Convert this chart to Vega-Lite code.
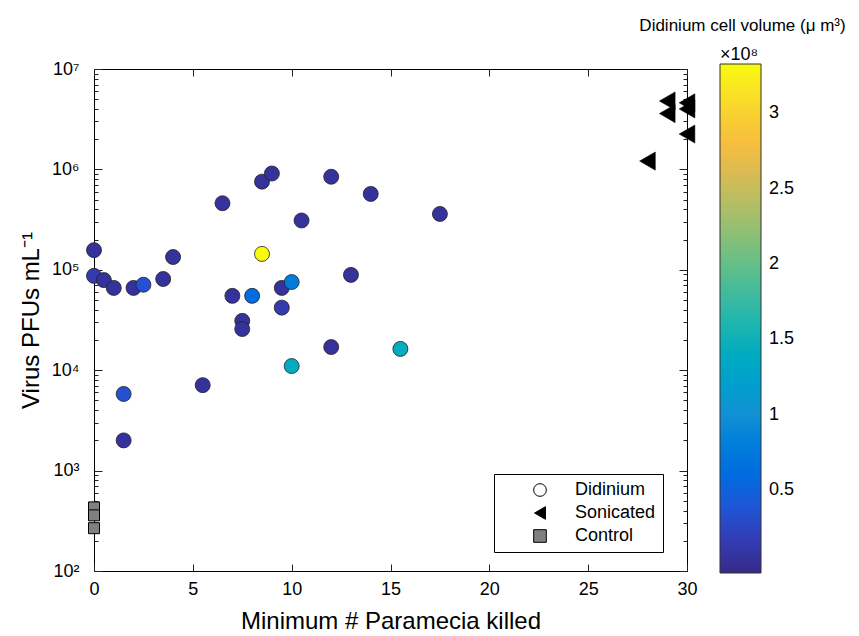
{
  "$schema": "https://vega.github.io/schema/vega-lite/v6.json",
  "width": 593,
  "height": 502,
  "autosize": {"type": "none"},
  "padding": {"left": 94, "top": 69, "right": 172, "bottom": 65},
  "background": "white",
  "config": {
    "font": "Liberation Sans",
    "view": {"stroke": "black", "strokeWidth": 1},
    "axis": {"labelColor": "black", "titleColor": "black", "tickColor": "#222", "tickWidth": 1, "grid": false, "domain": false}
  },
  "title": {
    "text": "Didinium cell volume (μ m³)",
    "fontSize": 17,
    "fontWeight": "normal",
    "font": "Liberation Sans",
    "color": "black",
    "anchor": "middle",
    "frame": "group",
    "dx": 352,
    "offset": 11
  },
  "data": {
    "values": [
      {"killed": 0, "pfu": 157000, "volume": 5000000, "group": "Didinium"},
      {"killed": 0, "pfu": 87000, "volume": 15000000, "group": "Didinium"},
      {"killed": 0.5, "pfu": 79000, "volume": 5000000, "group": "Didinium"},
      {"killed": 1, "pfu": 66000, "volume": 5000000, "group": "Didinium"},
      {"killed": 1.5, "pfu": 5800, "volume": 35000000, "group": "Didinium"},
      {"killed": 1.5, "pfu": 2000, "volume": 5000000, "group": "Didinium"},
      {"killed": 2, "pfu": 66000, "volume": 5000000, "group": "Didinium"},
      {"killed": 2.5, "pfu": 71000, "volume": 35000000, "group": "Didinium"},
      {"killed": 3.5, "pfu": 81000, "volume": 5000000, "group": "Didinium"},
      {"killed": 4, "pfu": 134000, "volume": 5000000, "group": "Didinium"},
      {"killed": 5.5, "pfu": 7100, "volume": 5000000, "group": "Didinium"},
      {"killed": 6.5, "pfu": 460000, "volume": 5000000, "group": "Didinium"},
      {"killed": 7, "pfu": 55000, "volume": 5000000, "group": "Didinium"},
      {"killed": 7.5, "pfu": 31000, "volume": 5000000, "group": "Didinium"},
      {"killed": 7.5, "pfu": 25700, "volume": 5000000, "group": "Didinium"},
      {"killed": 8, "pfu": 55000, "volume": 60000000, "group": "Didinium"},
      {"killed": 8.5, "pfu": 755000, "volume": 5000000, "group": "Didinium"},
      {"killed": 8.5, "pfu": 144000, "volume": 333000000, "group": "Didinium"},
      {"killed": 9, "pfu": 910000, "volume": 5000000, "group": "Didinium"},
      {"killed": 9.5, "pfu": 66000, "volume": 5000000, "group": "Didinium"},
      {"killed": 9.5, "pfu": 42000, "volume": 15000000, "group": "Didinium"},
      {"killed": 10, "pfu": 75500, "volume": 80000000, "group": "Didinium"},
      {"killed": 10, "pfu": 11000, "volume": 140000000, "group": "Didinium"},
      {"killed": 10.5, "pfu": 310000, "volume": 5000000, "group": "Didinium"},
      {"killed": 12, "pfu": 845000, "volume": 5000000, "group": "Didinium"},
      {"killed": 12, "pfu": 17000, "volume": 5000000, "group": "Didinium"},
      {"killed": 13, "pfu": 89000, "volume": 5000000, "group": "Didinium"},
      {"killed": 14, "pfu": 570000, "volume": 5000000, "group": "Didinium"},
      {"killed": 15.5, "pfu": 16300, "volume": 145000000, "group": "Didinium"},
      {"killed": 17.5, "pfu": 360000, "volume": 5000000, "group": "Didinium"},
      {"killed": 29, "pfu": 4800000, "volume": null, "group": "Sonicated"},
      {"killed": 29, "pfu": 3600000, "volume": null, "group": "Sonicated"},
      {"killed": 30, "pfu": 4600000, "volume": null, "group": "Sonicated"},
      {"killed": 30, "pfu": 4000000, "volume": null, "group": "Sonicated"},
      {"killed": 30, "pfu": 2250000, "volume": null, "group": "Sonicated"},
      {"killed": 28, "pfu": 1210000, "volume": null, "group": "Sonicated"},
      {"killed": 0, "pfu": 430, "volume": null, "group": "Control"},
      {"killed": 0, "pfu": 358, "volume": null, "group": "Control"},
      {"killed": 0, "pfu": 267, "volume": null, "group": "Control"}
    ]
  },
  "resolve": {"axis": {"x": "independent", "y": "independent"}},
  "layer": [
    {
      "transform": [{"filter": "datum.group === 'Didinium'"}],
      "mark": {"type": "point", "filled": true, "size": 225, "stroke": "#222", "strokeWidth": 0.8, "opacity": 1},
      "encoding": {
        "x": {
          "field": "killed", "type": "quantitative",
          "scale": {"domain": [0, 30], "nice": false, "zero": false},
          "axis": {
            "orient": "bottom", "values": [0, 5, 10, 15, 20, 25, 30],
            "labelFontSize": 18, "labelPadding": 16, "tickSize": -7,
            "title": "Minimum # Paramecia killed", "titleFontSize": 24, "titleFontWeight": "normal", "titlePadding": 11,
            "labelFlush": false, "labelOverlap": false
          }
        },
        "y": {
          "field": "pfu", "type": "quantitative",
          "scale": {"type": "log", "domain": [100, 10000000], "nice": false},
          "axis": {
            "orient": "left",
            "values": [100, 1000, 10000, 100000, 1000000, 10000000],
            "labelExpr": "'10' + ['⁰','¹','²','³','⁴','⁵','⁶','⁷','⁸'][round(log(datum.value)/LN10)]",
            "labelFontSize": 18, "labelPadding": 23, "tickSize": -8,
            "title": "Virus PFUs mL⁻¹", "titleFontSize": 24, "titleFontWeight": "normal", "titlePadding": 8,
            "labelFlush": false, "labelOverlap": false
          }
        },
        "color": {
          "field": "volume", "type": "quantitative",
          "scale": {
            "domain": [-5000000, 25000000, 50000000, 75000000, 100000000, 125000000, 150000000, 175000000, 200000000, 225000000, 250000000, 275000000, 300000000, 332700000],
            "range": ["#352a87", "#2f44c6", "#0463e0", "#0e78dc", "#1190d4", "#08a3ca", "#12b1b9", "#36b9a2", "#64bf88", "#97bf72", "#c9bb5e", "#f6b942", "#f9d130", "#f9fb0e"]
          },
          "legend": {
            "type": "gradient", "orient": "none", "legendX": 626, "legendY": -23, "direction": "vertical",
            "gradientLength": 509, "gradientThickness": 41,
            "title": "×10⁸", "titleFontSize": 18, "titleFontWeight": "normal", "titlePadding": 0, "titleColor": "black",
            "labelFontSize": 18, "labelOffset": 8, "labelColor": "black", "labelOverlap": false,
            "values": [50000000, 100000000, 150000000, 200000000, 250000000, 300000000],
            "labelExpr": "datum.value/100000000 + ''",
            "gradientStrokeColor": "#333", "gradientStrokeWidth": 1, "padding": 0
          }
        },
        "shape": {
          "field": "group", "type": "nominal",
          "scale": {"domain": ["Didinium", "Sonicated", "Control"], "range": ["circle", "triangle-left", "square"]},
          "legend": {
            "orient": "none", "legendX": 400, "legendY": 405, "title": null,
            "strokeColor": "black", "fillColor": "white", "padding": 7,
            "symbolOffset": 30, "labelOffset": 26, "rowPadding": 5,
            "labelFontSize": 18, "labelColor": "black", "symbolSize": 160, "symbolOpacity": 1,
            "symbolStrokeWidth": 1, "symbolStrokeColor": "black", "symbolFillColor": "white"
          }
        }
      }
    },
    {
      "transform": [{"filter": "datum.group === 'Sonicated'"}],
      "mark": {"type": "point", "filled": true, "size": 330, "stroke": "black", "strokeWidth": 0.5, "opacity": 1},
      "encoding": {
        "x": {
          "field": "killed", "type": "quantitative",
          "axis": {
            "orient": "top", "values": [0, 5, 10, 15, 20, 25, 30], "labels": false, "tickSize": -7, "title": null
          }
        },
        "y": {
          "field": "pfu", "type": "quantitative",
          "axis": {
            "orient": "right", "labels": false, "tickSize": -8, "title": null,
            "values": [100, 1000, 10000, 100000, 1000000, 10000000]
          }
        },
        "shape": {
          "field": "group", "type": "nominal",
          "scale": {"domain": ["Didinium", "Sonicated", "Control"], "range": ["circle", "triangle-left", "square"]}
        },
        "fill": {
          "field": "group", "type": "nominal",
          "scale": {"domain": ["Didinium", "Sonicated", "Control"], "range": ["white", "black", "#808080"]},
          "legend": {
            "orient": "none", "legendX": 400, "legendY": 405, "title": null,
            "strokeColor": "black", "fillColor": "white", "padding": 7,
            "symbolOffset": 30, "labelOffset": 26, "rowPadding": 5,
            "labelFontSize": 18, "labelColor": "black", "symbolSize": 160, "symbolOpacity": 1,
            "symbolStrokeWidth": 1, "symbolStrokeColor": "black", "symbolFillColor": "white"
          }
        }
      }
    },
    {
      "transform": [{"filter": "datum.group === 'Control'"}],
      "mark": {"type": "point", "filled": true, "size": 121, "stroke": "black", "strokeWidth": 1, "opacity": 1},
      "encoding": {
        "x": {"field": "killed", "type": "quantitative", "axis": null},
        "y": {
          "field": "pfu", "type": "quantitative",
          "axis": {
            "orient": "left", "labels": false, "tickSize": -4, "title": null,
            "values": [200, 300, 400, 500, 600, 700, 800, 900, 2000, 3000, 4000, 5000, 6000, 7000, 8000, 9000, 20000, 30000, 40000, 50000, 60000, 70000, 80000, 90000, 200000, 300000, 400000, 500000, 600000, 700000, 800000, 900000, 2000000, 3000000, 4000000, 5000000, 6000000, 7000000, 8000000, 9000000]
          }
        },
        "shape": {
          "field": "group", "type": "nominal",
          "scale": {"domain": ["Didinium", "Sonicated", "Control"], "range": ["circle", "triangle-left", "square"]}
        },
        "fill": {
          "field": "group", "type": "nominal",
          "scale": {"domain": ["Didinium", "Sonicated", "Control"], "range": ["white", "black", "#808080"]}
        }
      }
    },
    {
      "transform": [{"filter": "datum.group === 'Control'"}],
      "mark": {"type": "point", "size": 1, "opacity": 0},
      "encoding": {
        "x": {"field": "killed", "type": "quantitative", "axis": null},
        "y": {
          "field": "pfu", "type": "quantitative",
          "axis": {
            "orient": "right", "labels": false, "tickSize": -4, "title": null,
            "values": [200, 300, 400, 500, 600, 700, 800, 900, 2000, 3000, 4000, 5000, 6000, 7000, 8000, 9000, 20000, 30000, 40000, 50000, 60000, 70000, 80000, 90000, 200000, 300000, 400000, 500000, 600000, 700000, 800000, 900000, 2000000, 3000000, 4000000, 5000000, 6000000, 7000000, 8000000, 9000000]
          }
        }
      }
    }
  ]
}
